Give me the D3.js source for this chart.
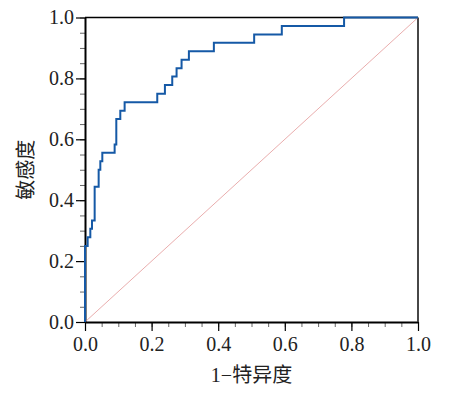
<!DOCTYPE html>
<html>
<head>
<meta charset="utf-8">
<script src="https://cdn.jsdelivr.net/npm/d3@7"></script>
<style>
  body { margin: 0; background: #fff; }
  svg text { font-family: "Liberation Serif", "Noto Sans CJK SC", serif; fill: #222; }
</style>
</head>
<body>
<div id="chart"></div>
<script>
// ROC curve points (1 - specificity, sensitivity)
const fpr = [0, 0, 0.008, 0.016, 0.021, 0.029, 0.041, 0.046, 0.052, 0.089, 0.094,
  0.106, 0.119, 0.217, 0.240, 0.262, 0.275, 0.290, 0.312, 0.387, 0.508, 0.591, 0.778, 1.0];
const tpr = [0, 0.25, 0.278, 0.306, 0.333, 0.444, 0.5, 0.528, 0.556, 0.583, 0.667,
  0.694, 0.722, 0.75, 0.778, 0.806, 0.833, 0.861, 0.889, 0.917, 0.944, 0.972, 1.0, 1.0];
const majorTicks = [0, 0.2, 0.4, 0.6, 0.8, 1.0];
const minorTicks = d3.range(0, 21).map((i) => i * 0.05);
const xTitle = "1−特异度";
const yTitle = "敏感度";

const W = 449, H = 398;
const margin = { top: 17.5, right: 31, bottom: 76, left: 85 };
const width = W - margin.left - margin.right;
const height = H - margin.top - margin.bottom;

const svg = d3.select("#chart").append("svg")
  .attr("width", W)
  .attr("height", H);

const g = svg.append("g")
  .attr("transform", `translate(${margin.left},${margin.top})`);

const x = d3.scaleLinear().domain([0, 1]).range([0, width]);
const y = d3.scaleLinear().domain([0, 1]).range([height, 0]);

// minor ticks
g.append("g")
  .attr("transform", `translate(0,${height})`)
  .call(d3.axisBottom(x).tickValues(minorTicks).tickSize(5).tickSizeOuter(0).tickFormat(""))
  .call((a) => a.select(".domain").remove())
  .call((a) => a.selectAll("line").attr("stroke", "#666"));
g.append("g")
  .call(d3.axisLeft(y).tickValues(minorTicks).tickSize(5).tickSizeOuter(0).tickFormat(""))
  .call((a) => a.select(".domain").remove())
  .call((a) => a.selectAll("line").attr("stroke", "#666"));

// major axes
const fmt = d3.format(".1f");
const xAxis = g.append("g")
  .attr("transform", `translate(0,${height})`)
  .call(d3.axisBottom(x).tickValues(majorTicks).tickSize(9).tickSizeOuter(0).tickPadding(6).tickFormat(fmt));
const yAxis = g.append("g")
  .call(d3.axisLeft(y).tickValues(majorTicks).tickSize(9).tickSizeOuter(0).tickPadding(2).tickFormat(fmt));

[xAxis, yAxis].forEach((a) => {
  a.select(".domain").attr("stroke", "#000").attr("stroke-width", 2);
  a.selectAll("line").attr("stroke", "#000").attr("stroke-width", 1.2);
  a.selectAll("text")
    .style("font-size", "20px")
    .style("font-family", "'Liberation Serif', serif")
    .attr("fill", "#222");
});

// top and right border
g.append("line")
  .attr("x1", x(0)).attr("x2", x(1))
  .attr("y1", y(1)).attr("y2", y(1))
  .attr("stroke", "#000").attr("stroke-width", 1.5);
g.append("line")
  .attr("x1", x(1)).attr("x2", x(1))
  .attr("y1", y(1)).attr("y2", y(0))
  .attr("stroke", "#333").attr("stroke-width", 1.8);

// reference diagonal
g.append("line")
  .attr("x1", x(0)).attr("y1", y(0))
  .attr("x2", x(1)).attr("y2", y(1))
  .attr("stroke", "#e08a8a")
  .attr("stroke-width", 0.7);

// ROC step curve
const points = fpr.map((d, i) => [d, tpr[i]]);
const line = d3.line()
  .x((d) => x(d[0]))
  .y((d) => y(d[1]))
  .curve(d3.curveStepAfter);

g.append("path")
  .datum(points)
  .attr("d", line)
  .attr("fill", "none")
  .attr("stroke", "#1559a6")
  .attr("stroke-width", 2);

// axis titles
g.append("text")
  .attr("x", width / 2)
  .attr("y", height + 60)
  .attr("text-anchor", "middle")
  .style("font-size", "20px")
  .text(xTitle);

g.append("text")
  .attr("transform", `translate(${-margin.left + 33},${height / 2}) rotate(-90)`)
  .attr("text-anchor", "middle")
  .style("font-size", "20px")
  .text(yTitle);
</script>
</body>
</html>
